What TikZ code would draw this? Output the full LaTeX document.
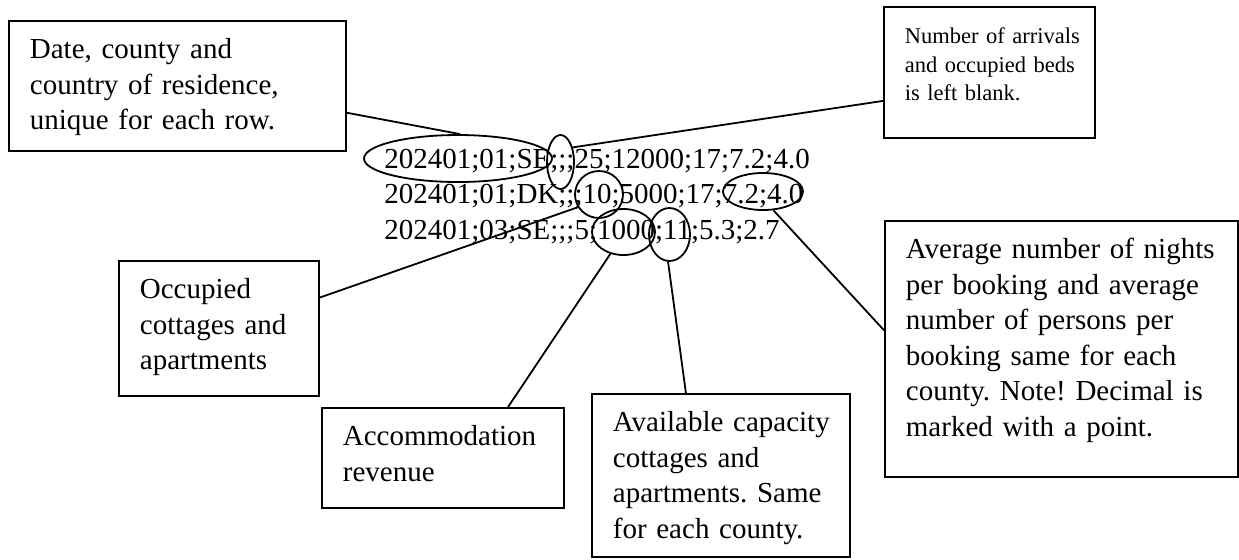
\documentclass[tikz,border=0pt]{standalone}
\usepackage{fontspec}
\setmainfont{Liberation Serif}
\usetikzlibrary{shapes.geometric}

\begin{document}
\begin{tikzpicture}[x=0.5pt,y=-0.5pt,line width=0.9pt,
  font=\fontsize{14.5}{17.75}\selectfont\frenchspacing,
  note/.style 2 args={draw,rectangle,anchor=north west,align=left,
    inner xsep=10.5pt,inner ysep=0pt,text height=19pt,text width=#1,text depth=#2,
    execute at begin node={\hyphenpenalty=10000\exhyphenpenalty=10000\hbadness=10000\hfuzz=20pt}},
  row/.style={anchor=base west,inner sep=0pt},
  ring/.style={draw,ellipse,inner sep=0pt}]
\useasboundingbox (0,0) rectangle (1239,559);

\node [row] (r1) at (383.5,168) {202401;01;SE;;;25;12000;17;7.2;4.0};
\node [row] (r2) at (383.5,203.5) {202401;01;DK;;;10;5000;17;7.2;4.0};
\node [row] (r3) at (383.5,239) {202401;03;SE;;;5;1000;11;5.3;2.7};

\node [ring,minimum width=94pt,minimum height=23.5pt] (e1) at (458,158.5) {};
\node [ring,minimum width=13.5pt,minimum height=27pt] (e2) at (560.5,162) {};
\node [ring,minimum width=24pt,minimum height=23.5pt] (e3) at (599,194.5) {};
\node [ring,minimum width=31.5pt,minimum height=23pt] (e4) at (623.5,232) {};
\node [ring,minimum width=20.5pt,minimum height=26.5pt] (e5) at (669.5,234.5) {};
\node [ring,minimum width=40pt,minimum height=18.5pt] (e6) at (763,191.5) {};

\node [note={147.5pt}{46pt}] (key) at (8,20)
  {Date, county and\\country of residence,\\unique for each row.};
\node [note={84.5pt}{47pt},text height=18.5pt,font=\fontsize{11.25}{14.25}\selectfont\frenchspacing] (blank) at (883,6)
  {Number~of~arrivals\\and~occupied~beds\\is~left~blank.};
\node [note={79pt}{48.5pt}] (occ) at (118,260)
  {Occupied\\cottages~and\\apartments};
\node [note={100pt}{31pt}] (rev) at (321,407)
  {Accommodation\\revenue};
\node [note={108pt}{62.5pt}] (cap) at (591,393)
  {Available~capacity\\cottages~and\\apartments.~Same\\for~each~county.};
\node [note={155.5pt}{109pt}] (avg) at (884,220)
  {Average~number~of~nights\\per~booking~and~average\\number~of~persons~per\\booking~same~for~each\\county.~Note!~Decimal~is\\marked~with~a~point.};

\draw (key.-9.4) -- (e1.85);
\draw (e2.50) -- (blank.195);
\draw (occ.17.5) -- (e3.211);
\draw (e4.239) -- (rev.38.9);
\draw (e5.267) -- (cap.113.8);
\draw (e6.-61.6) -- (avg.174.8);
\end{tikzpicture}
\end{document}
